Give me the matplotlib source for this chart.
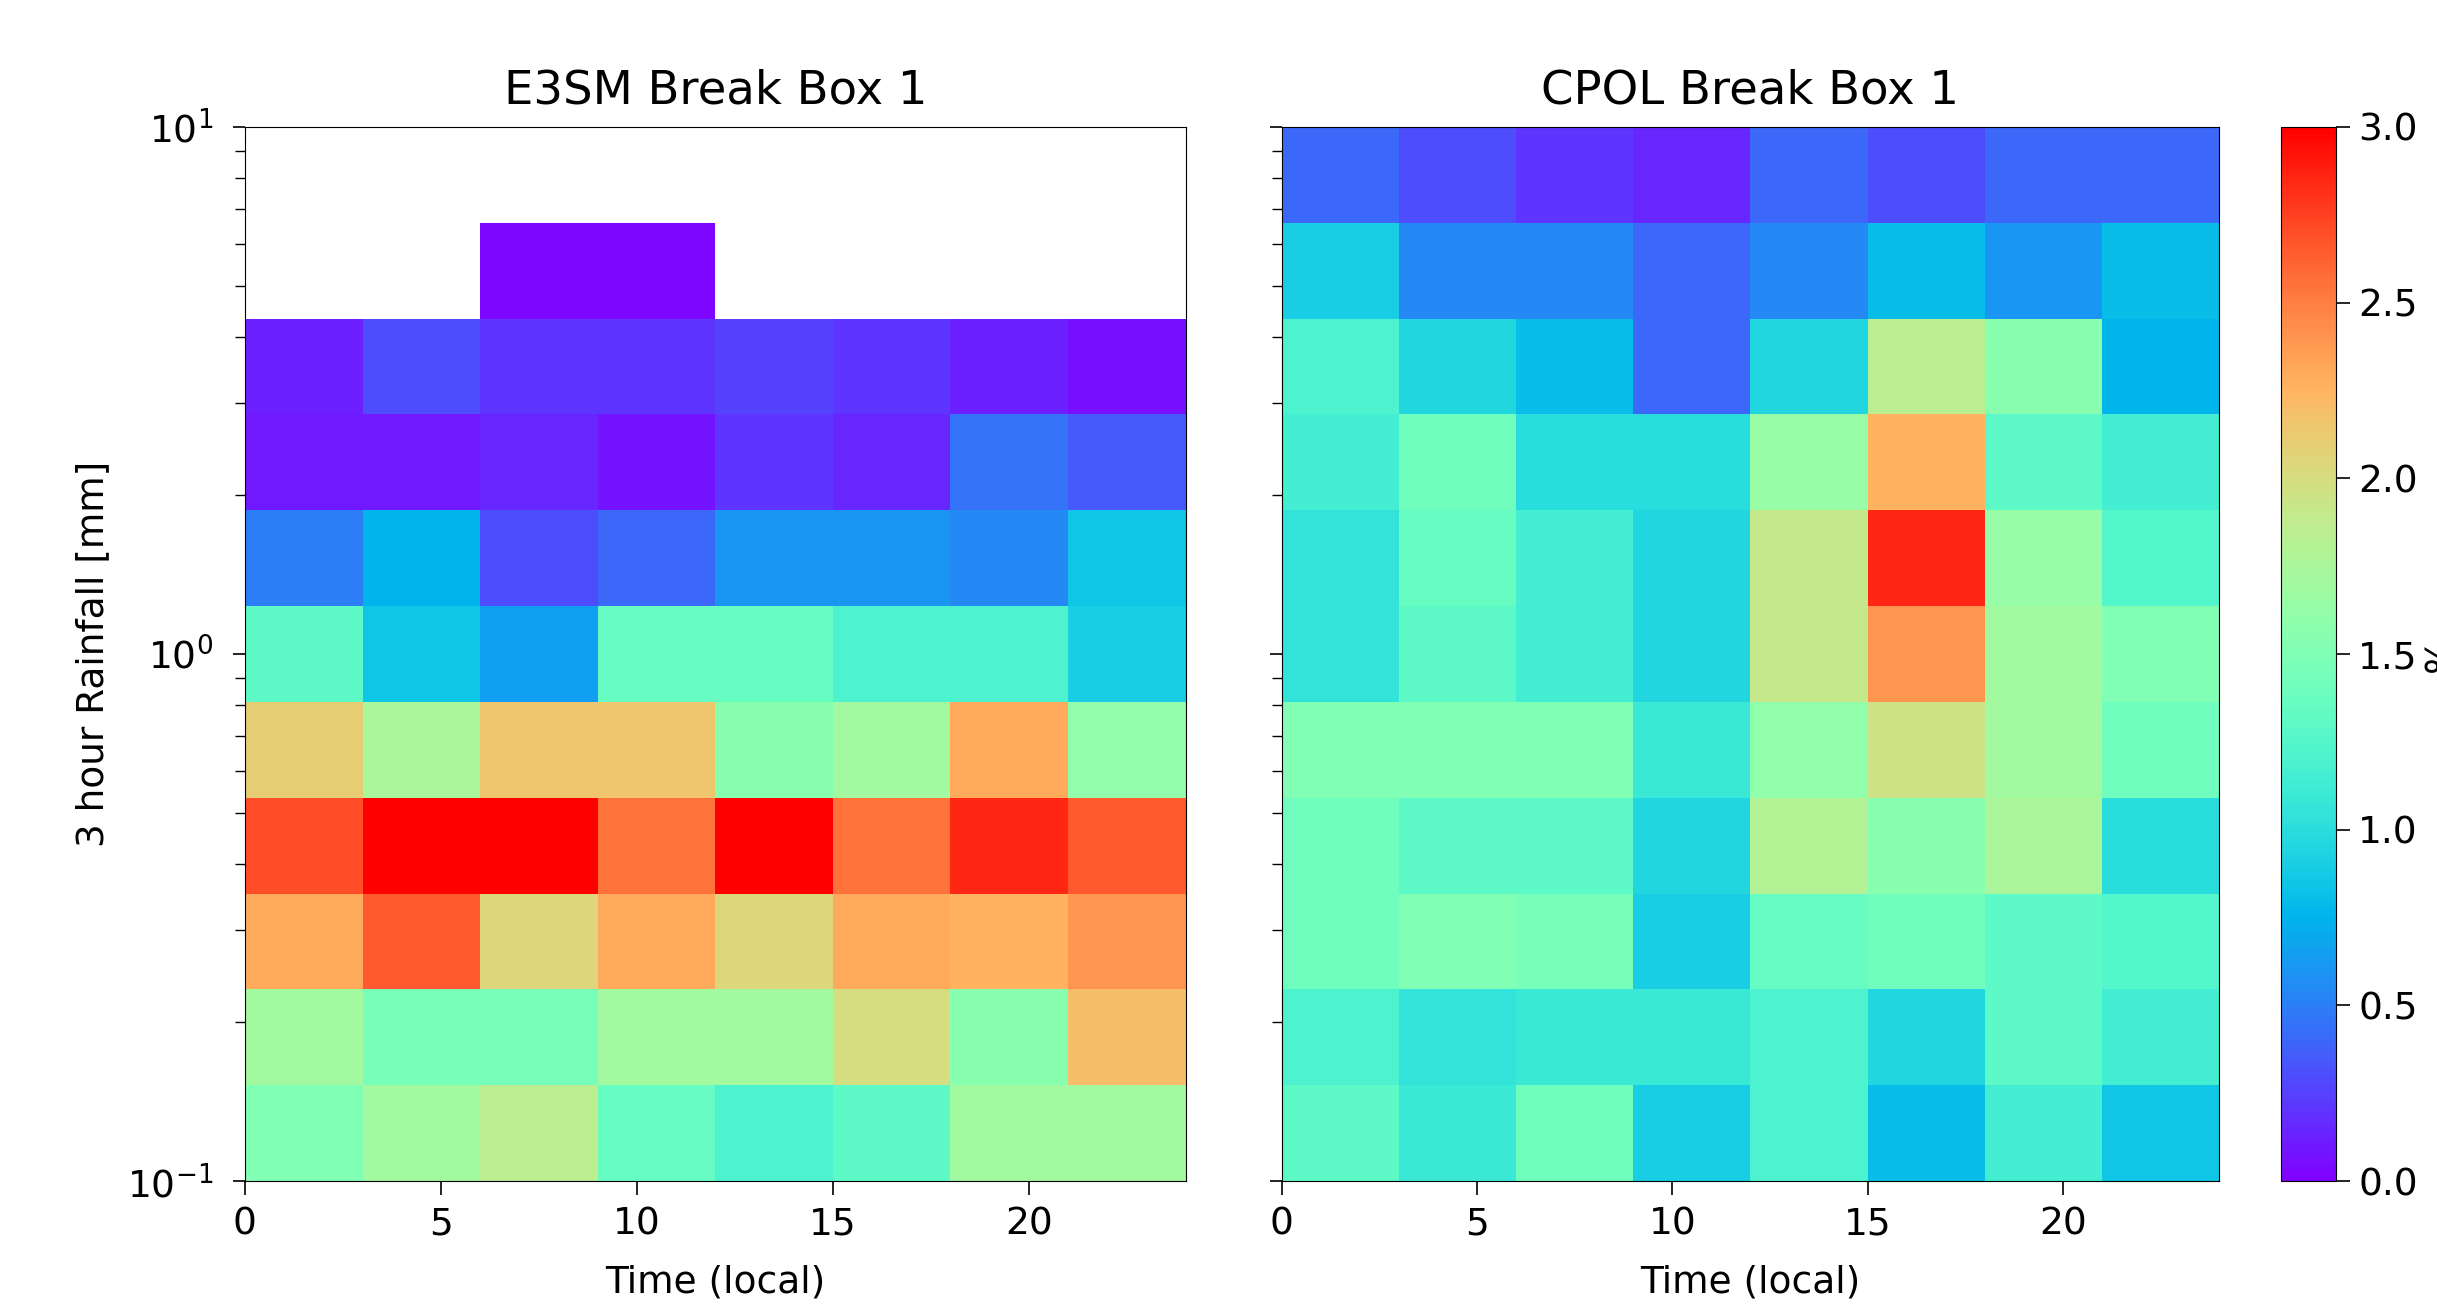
import numpy as np
import matplotlib
matplotlib.use('Agg')
import matplotlib.pyplot as plt

# Bin edges: 3-hourly local time, log-spaced rainfall
time_edges = np.arange(0, 25, 3)
rain_edges = np.logspace(-1, 1, 12)

# Rows go from the lowest rainfall bin (0.1 mm) upwards, columns are time bins
e3sm_box1 = np.array([
    [1.50, 1.70, 1.85, 1.35, 1.20, 1.30, 1.70, 1.70],
    [1.70, 1.45, 1.45, 1.70, 1.70, 2.00, 1.55, 2.20],
    [2.30, 2.65, 2.05, 2.30, 2.05, 2.30, 2.25, 2.40],
    [2.70, 3.00, 3.00, 2.55, 3.00, 2.55, 2.85, 2.65],
    [2.10, 1.75, 2.15, 2.15, 1.55, 1.70, 2.30, 1.60],
    [1.30, 0.85, 0.65, 1.35, 1.35, 1.20, 1.20, 0.90],
    [0.50, 0.75, 0.30, 0.40, 0.60, 0.60, 0.55, 0.85],
    [0.10, 0.10, 0.15, 0.08, 0.20, 0.15, 0.45, 0.35],
    [0.12, 0.30, 0.20, 0.20, 0.25, 0.20, 0.12, 0.05],
    [np.nan, np.nan, 0.03, 0.03, np.nan, np.nan, np.nan, np.nan],
    [np.nan] * 8,
])

cpol_box1 = np.array([
    [1.30, 1.10, 1.40, 0.90, 1.20, 0.80, 1.15, 0.85],
    [1.20, 1.05, 1.10, 1.10, 1.20, 0.95, 1.30, 1.15],
    [1.40, 1.50, 1.45, 0.90, 1.35, 1.40, 1.30, 1.25],
    [1.40, 1.30, 1.30, 0.95, 1.80, 1.55, 1.75, 1.00],
    [1.50, 1.50, 1.50, 1.10, 1.60, 1.95, 1.70, 1.40],
    [1.05, 1.30, 1.15, 0.95, 1.90, 2.40, 1.70, 1.50],
    [1.05, 1.35, 1.15, 0.95, 1.90, 2.85, 1.65, 1.25],
    [1.15, 1.40, 1.00, 1.00, 1.65, 2.25, 1.30, 1.15],
    [1.20, 0.95, 0.80, 0.40, 0.95, 1.85, 1.55, 0.75],
    [0.90, 0.55, 0.55, 0.40, 0.55, 0.80, 0.60, 0.80],
    [0.40, 0.30, 0.20, 0.15, 0.40, 0.30, 0.40, 0.40],
])

titles = ['E3SM Break Box 1', 'CPOL Break Box 1']

plt.rcParams['font.size'] = 27

fig = plt.figure(figsize=(24.37, 13.05), dpi=100)
ax1 = fig.add_axes([0.1005, 0.095, 0.386, 0.8077])
ax2 = fig.add_axes([0.526, 0.095, 0.3845, 0.8077], sharey=ax1)
cax = fig.add_axes([0.936, 0.095, 0.0226, 0.8077])

for ax, data, title in zip([ax1, ax2], [e3sm_box1, cpol_box1], titles):
    mesh = ax.pcolormesh(time_edges, rain_edges, np.ma.masked_invalid(data),
                         cmap='rainbow', vmin=0, vmax=3)
    ax.set_yscale('log')
    ax.set_ylim(0.1, 10)
    ax.set_xlim(0, 24)
    ax.set_xticks([0, 5, 10, 15, 20])
    ax.set_title(title, fontsize=33.5, pad=17)
    ax.set_xlabel('Time (local)', labelpad=16)
    ax.tick_params(axis='x', length=10, width=1.2, pad=8)
    ax.tick_params(axis='y', length=9, width=1.2, pad=14)
    ax.tick_params(axis='y', which='minor', length=7, width=1)

ax1.set_ylabel('3 hour Rainfall [mm]', labelpad=11)
plt.setp(ax2.get_yticklabels(), visible=False)

cb = fig.colorbar(mesh, cax=cax)
cb.set_ticks([0, 0.5, 1.0, 1.5, 2.0, 2.5, 3.0])
cb.ax.tick_params(length=10, width=1.2, pad=6)
cb.set_label('%')

fig.savefig('out.png', dpi=100)
